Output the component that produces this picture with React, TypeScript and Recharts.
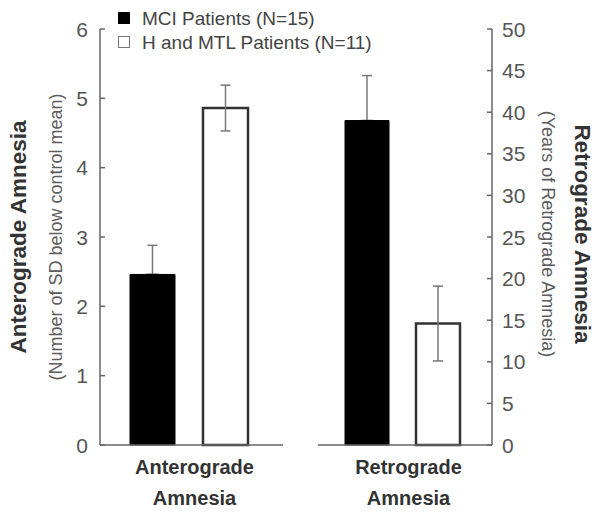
import { BarChart, Bar, XAxis, YAxis, ErrorBar, Legend } from 'recharts'

const anteroCategories = ['Anterograde Amnesia']
const retroCategories = ['Retrograde Amnesia']
const seriesNames = ['MCI Patients (N=15)', 'H and MTL Patients (N=11)']

// [anterograde (SD units), retrograde (years)]
const mciValues = [2.46, 39.0]
const mciErrors = [0.42, 5.4]
const hmtlValues = [4.86, 14.6]
const hmtlErrors = [0.33, 4.5]

const leftTicks = [0, 1, 2, 3, 4, 5, 6]
const rightTicks = [0, 5, 10, 15, 20, 25, 30, 35, 40, 45, 50]

const FONT = '"Liberation Sans", Arial, sans-serif'
const AXIS = '#666666'
const TICK_TEXT = '#555555'
const TITLE = '#333333'

// MCI error bars only go upward (lower half hidden inside the black bar)
const anteroData = anteroCategories.map(name => ({
  name,
  mci: mciValues[0],
  mciErr: [0, mciErrors[0]],
  hmtl: hmtlValues[0],
  hmtlErr: hmtlErrors[0],
}))

const retroData = retroCategories.map(name => ({
  name,
  mci: mciValues[1],
  mciErr: [0, mciErrors[1]],
  hmtl: hmtlValues[1],
  hmtlErr: hmtlErrors[1],
}))

function LeftTick({ x, y, payload }: any) {
  return (
    <g>
      <line x1={x + 12} x2={x + 17} y1={y} y2={y} stroke={AXIS} strokeWidth={1.5} />
      <text x={x} y={y} textAnchor="end" dominantBaseline="central" fontSize={21} fill={TICK_TEXT} fontFamily={FONT}>
        {payload.value}
      </text>
    </g>
  )
}

function RightTick({ x, y, payload }: any) {
  return (
    <g>
      <line x1={x - 15} x2={x - 10} y1={y} y2={y} stroke={AXIS} strokeWidth={1.5} />
      <text x={x} y={y} textAnchor="start" dominantBaseline="central" fontSize={21} fill={TICK_TEXT} fontFamily={FONT}>
        {payload.value}
      </text>
    </g>
  )
}

function CategoryTick({ x, y, payload }: any) {
  const words = String(payload.value).split(' ')
  return (
    <g>
      {words.map((w, i) => (
        <text
          key={w}
          x={x + 6}
          y={y + 22 + i * 31}
          textAnchor="middle"
          dominantBaseline="central"
          fontSize={20}
          fontWeight="bold"
          fill={TITLE}
          fontFamily={FONT}
        >
          {w}
        </text>
      ))}
    </g>
  )
}

function LeftTitle({ viewBox }: any) {
  const cy = viewBox.y + viewBox.height / 2
  const tx = viewBox.x + 18
  const sx = viewBox.x + 56
  return (
    <g fontFamily={FONT}>
      <text x={tx} y={cy} transform={`rotate(-90 ${tx} ${cy})`} textAnchor="middle" dominantBaseline="central" fontSize={22.5} fontWeight="bold" fill={TITLE}>
        Anterograde Amnesia
      </text>
      <text x={sx} y={cy} transform={`rotate(-90 ${sx} ${cy})`} textAnchor="middle" dominantBaseline="central" fontSize={18} fill="#5c5c5c">
        (Number of SD below control mean)
      </text>
    </g>
  )
}

function RightTitle({ viewBox }: any) {
  const cy = viewBox.y + viewBox.height / 2 - 3
  const tx = viewBox.x + 90
  const sx = viewBox.x + 56
  return (
    <g fontFamily={FONT}>
      <text x={tx} y={cy} transform={`rotate(90 ${tx} ${cy})`} textAnchor="middle" dominantBaseline="central" fontSize={22.5} fontWeight="bold" fill={TITLE}>
        Retrograde Amnesia
      </text>
      <text x={sx} y={cy} transform={`rotate(90 ${sx} ${cy})`} textAnchor="middle" dominantBaseline="central" fontSize={18} fill="#5c5c5c">
        (Years of Retrograde Amnesia)
      </text>
    </g>
  )
}

// covers the lower cap of the one-sided error bar on the black bar
function CapCover({ x, y, width }: any) {
  const cx = x + width / 2
  return <line x1={cx - 7} x2={cx + 7} y1={y + 0.6} y2={y + 0.6} stroke="#000000" strokeWidth={2.4} />
}

function LegendBox() {
  const fills = ['#000000', '#ffffff']
  return (
    <svg width={400} height={60} style={{ display: 'block' }}>
      {seriesNames.map((name, i) => (
        <g key={name}>
          <rect x={118.5} y={12.5 + i * 24} width={11} height={11} fill={fills[i]} stroke={i === 0 ? '#000' : '#777'} strokeWidth={1} />
          <text x={142} y={18 + i * 24} dominantBaseline="central" fontSize={19} fill="#444" fontFamily={FONT}>
            {name}
          </text>
        </g>
      ))}
    </svg>
  )
}

export default function App() {
  return (
    <div style={{ position: 'absolute', left: 0, top: 0, width: 601, height: 514, background: '#fff' }}>
      <div style={{ position: 'absolute', left: 0, top: 0 }}>
        <BarChart width={300} height={514} data={anteroData} margin={{ top: 29, right: 17, bottom: 0, left: 0 }} barSize={45} barGap={28}>
          <XAxis
            dataKey="name"
            height={69}
            tickSize={0}
            tickMargin={0}
            tickLine={false}
            padding={{ left: 0, right: 6 }}
            axisLine={{ stroke: AXIS, strokeWidth: 1.5 }}
            tick={<CategoryTick />}
          />
          <YAxis
            width={100}
            domain={[0, 6]}
            ticks={leftTicks}
            tickSize={0}
            tickMargin={12}
            tickLine={false}
            axisLine={{ stroke: AXIS, strokeWidth: 1.5 }}
            tick={<LeftTick />}
            label={{ content: <LeftTitle /> }}
          />
          <Legend
            layout="horizontal"
            verticalAlign="middle"
            align="center"
            wrapperStyle={{ left: 0, top: 0, width: 400, height: 60 }}
            content={() => <LegendBox />}
          />
          <Bar dataKey="mci" name={seriesNames[0]} fill="#000000" stroke="#000000" isAnimationActive={false} label={<CapCover />}>
            <ErrorBar dataKey="mciErr" width={5} stroke="#777777" strokeWidth={1.5} direction="y" />
          </Bar>
          <Bar dataKey="hmtl" name={seriesNames[1]} fill="#ffffff" stroke="#333333" strokeWidth={2.5} isAnimationActive={false}>
            <ErrorBar dataKey="hmtlErr" width={5} stroke="#777777" strokeWidth={1.5} direction="y" />
          </Bar>
        </BarChart>
      </div>
      <div style={{ position: 'absolute', left: 300, top: 0 }}>
        <BarChart width={301} height={514} data={retroData} margin={{ top: 29, right: 0, bottom: 0, left: 18 }} barSize={44} barGap={27}>
          <XAxis
            dataKey="name"
            height={69}
            tickSize={0}
            tickMargin={0}
            tickLine={false}
            padding={{ left: 0, right: 5 }}
            axisLine={{ stroke: AXIS, strokeWidth: 1.5 }}
            tick={<CategoryTick />}
          />
          <YAxis
            orientation="right"
            width={109}
            domain={[0, 50]}
            ticks={rightTicks}
            tickSize={0}
            tickMargin={10}
            tickLine={false}
            axisLine={{ stroke: AXIS, strokeWidth: 1.5 }}
            tick={<RightTick />}
            label={{ content: <RightTitle /> }}
          />
          <Bar dataKey="mci" name={seriesNames[0]} fill="#000000" stroke="#000000" isAnimationActive={false} label={<CapCover />}>
            <ErrorBar dataKey="mciErr" width={5} stroke="#777777" strokeWidth={1.5} direction="y" />
          </Bar>
          <Bar dataKey="hmtl" name={seriesNames[1]} fill="#ffffff" stroke="#333333" strokeWidth={2.5} isAnimationActive={false}>
            <ErrorBar dataKey="hmtlErr" width={5} stroke="#777777" strokeWidth={1.5} direction="y" />
          </Bar>
        </BarChart>
      </div>
    </div>
  )
}
